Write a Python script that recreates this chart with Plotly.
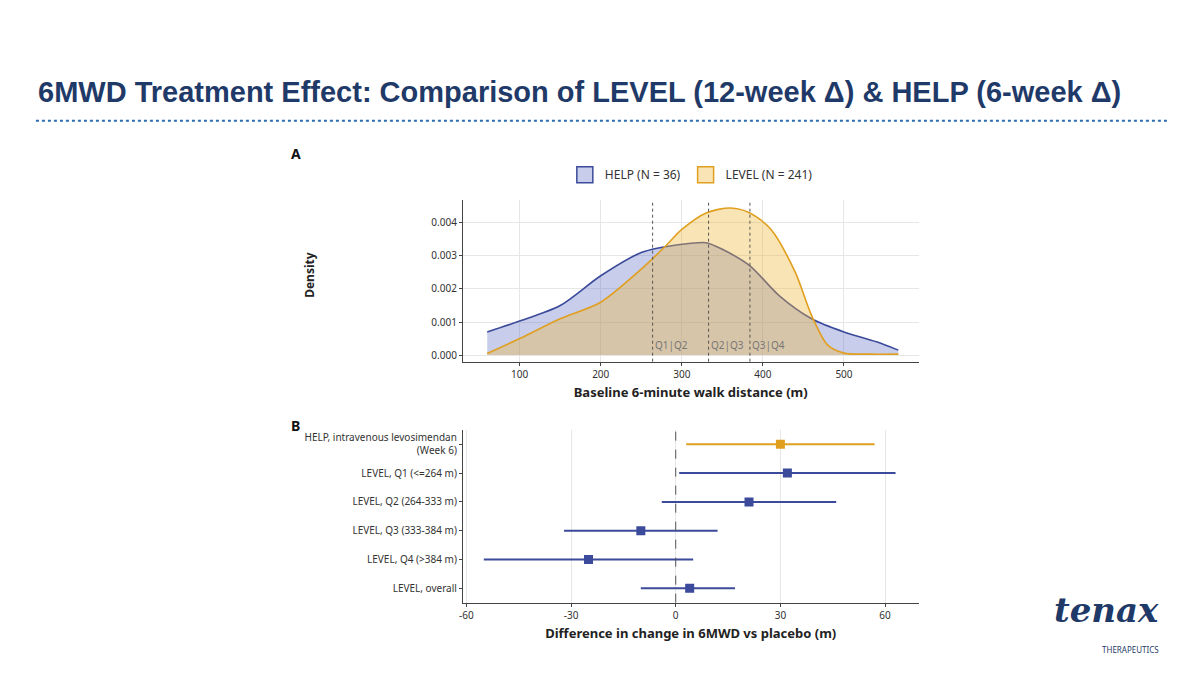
import plotly.graph_objects as go

# densidad
help_x = [60, 100, 150, 200, 250, 300, 330, 350, 384, 420, 460, 500, 540, 567]
help_y = [0.0007, 0.00103, 0.0015, 0.0024, 0.0031, 0.00335, 0.0034, 0.0032, 0.0027, 0.0018, 0.0011, 0.0007, 0.0004, 0.00015]
level_x = [60, 100, 150, 200, 250, 280, 300, 330, 360, 384, 410, 440, 460, 480, 500, 530, 567]
level_y = [0.00005, 0.0005, 0.0011, 0.0016, 0.0026, 0.0033, 0.0038, 0.0043, 0.00445, 0.0043, 0.0038, 0.0025, 0.0012, 0.0003, 0.00006, 0.00003, 0.00003]
cortes = [264, 333, 384]
cortes_txt = ['Q1|Q2', 'Q2|Q3', 'Q3|Q4']

# forest
grupos = ['HELP, intravenous levosimendan<br>(Week 6)', 'LEVEL, Q1 (<=264 m)', 'LEVEL, Q2 (264-333 m)',
          'LEVEL, Q3 (333-384 m)', 'LEVEL, Q4 (>384 m)', 'LEVEL, overall']
est = [30, 32, 21, -10, -25, 4]
lo = [3, 1, -4, -32, -55, -10]
hi = [57, 63, 46, 12, 5, 17]
ticks_b = [-60, -30, 0, 30, 60]

azul = '#3b4a9a'
naranja = '#e09f1f'
relleno_azul = 'rgba(80,100,190,0.32)'
relleno_nar = 'rgba(240,185,60,0.38)'
fuente = 'Noto Sans'

fig = go.Figure()
fig.add_trace(go.Scatter(x=help_x, y=help_y, mode='lines', line=dict(color=azul, width=1.6, shape='spline', smoothing=0.8),
                         fill='tozeroy', fillcolor=relleno_azul, showlegend=False))
fig.add_trace(go.Scatter(x=level_x, y=level_y, mode='lines', line=dict(color=naranja, width=1.6, shape='spline', smoothing=0.8),
                         fill='tozeroy', fillcolor=relleno_nar, showlegend=False))
# cajas de leyenda
fig.add_trace(go.Scatter(x=[None], y=[None], mode='markers', name='HELP (N = 36)',
                         marker=dict(symbol='square', size=20, color=relleno_azul, line=dict(color=azul, width=1.5))))
fig.add_trace(go.Scatter(x=[None], y=[None], mode='markers', name='LEVEL (N = 241)',
                         marker=dict(symbol='square', size=20, color=relleno_nar, line=dict(color=naranja, width=1.5))))
for c, t in zip(cortes, cortes_txt):
    fig.add_shape(type='line', x0=c, x1=c, y0=0, y1=1, xref='x', yref='y domain',
                  line=dict(color='#555', width=1, dash='dot'))
    fig.add_annotation(x=c, y=0.00003, text=t, xref='x', yref='y', showarrow=False, xanchor='left', yanchor='bottom',
                       font=dict(size=10, color='#777', family=fuente))

for i, g in enumerate(grupos):
    col = naranja if i == 0 else azul
    fig.add_trace(go.Scatter(x=[lo[i], hi[i]], y=[g, g], mode='lines', line=dict(color=col, width=2),
                             xaxis='x2', yaxis='y2', showlegend=False))
    fig.add_trace(go.Scatter(x=[est[i]], y=[g], mode='markers', marker=dict(color=col, size=9, symbol='square'),
                             xaxis='x2', yaxis='y2', showlegend=False))
fig.add_shape(type='line', x0=0, x1=0, y0=0, y1=1, xref='x2', yref='y2 domain',
              line=dict(color='#555', width=1, dash='dash'))

eje = dict(showline=True, linecolor='#444', gridcolor='#e6e6e6', zeroline=False, ticks='outside',
           ticklen=3, tickcolor='#444', tickfont=dict(size=10, color='#333', family=fuente))
fig.update_layout(
    width=1200, height=675, margin=dict(l=0, r=0, t=0, b=0),
    paper_bgcolor='white', plot_bgcolor='white',
    font=dict(family=fuente),
    xaxis=dict(eje, domain=[0.377, 0.758], range=[30, 592], tickvals=[100, 200, 300, 400, 500],
               title=dict(text='<b>Baseline 6-minute walk distance (m)</b>', font=dict(size=13, color='#222'), standoff=8)),
    yaxis=dict(eje, domain=[0.476, 0.716], range=[-0.0002, 0.0047], tickformat='.3f',
               tickvals=[0, 0.001, 0.002, 0.003, 0.004]),
    xaxis2=dict(eje, domain=[0.377, 0.758], range=[-61, 69.6], tickvals=ticks_b,
                ticktext=[str(v) for v in ticks_b], anchor='y2',
                title=dict(text='<b>Difference in change in 6MWD vs placebo (m)</b>', font=dict(size=13, color='#222'), standoff=8)),
    yaxis2=dict(eje, domain=[0.119, 0.375], anchor='x2', showgrid=False,
                categoryorder='array', categoryarray=grupos, range=[5.5, -0.5]),
    legend=dict(orientation='h', x=0.568, y=0.753, xanchor='center', yanchor='middle',
                font=dict(size=12, color='#333', family=fuente)),
)

# Textos
fig.add_annotation(x=0.02, y=0.876, xref='paper', yref='paper', xanchor='left', yanchor='middle', showarrow=False,
                   text='<b>6MWD Treatment Effect: Comparison of LEVEL (12-week Δ) & HELP (6-week Δ)</b>',
                   font=dict(size=29, color='#1f3a68', family='Liberation Sans'))
fig.add_shape(type='line', x0=0.02, x1=0.966, y0=0.833, y1=0.833, xref='paper', yref='paper',
              line=dict(color='#2e6db4', width=2, dash='dot'))
fig.add_annotation(x=0.232, y=0.802, xref='paper', yref='paper', showarrow=False, text='<b>A</b>',
                   font=dict(size=14, color='#111'))
fig.add_annotation(x=0.232, y=0.381, xref='paper', yref='paper', showarrow=False, text='<b>B</b>',
                   font=dict(size=14, color='#111'))
fig.add_annotation(x=0.24, y=0.604, xref='paper', yref='paper', showarrow=False, text='<b>Density</b>',
                   textangle=-90, font=dict(size=12, color='#222'))
fig.add_annotation(x=0.961, y=0.075, xref='paper', yref='paper', showarrow=False, xanchor='right',
                   text='<b><i>tenax</i></b>', font=dict(size=34, color='#1f3a68', family='DejaVu Serif'))
fig.add_annotation(x=0.961, y=0.039, xref='paper', yref='paper', showarrow=False, xanchor='right',
                   text='THERAPEUTICS', font=dict(size=8, color='#1f3a68'))

fig.write_html("out.html")
